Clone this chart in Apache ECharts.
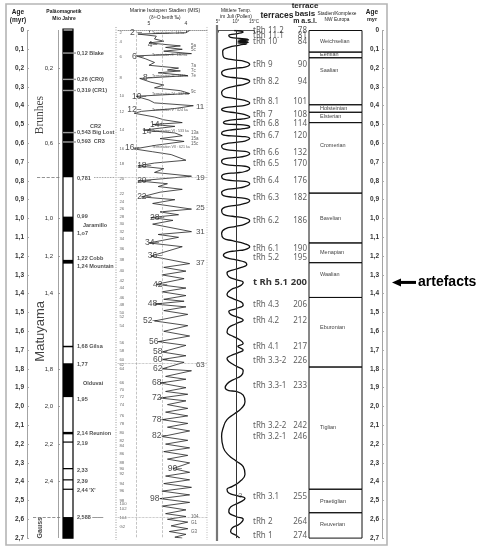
<!DOCTYPE html>
<html>
<head>
<meta charset="utf-8">
<script src="https://cdn.jsdelivr.net/npm/echarts@6/dist/echarts.min.js"></script>
<style>
html, body { margin: 0; padding: 0; background: #fff; }
#chart { width: 477px; height: 550px; }
</style>
</head>
<body>
<div id="chart"></div>
<script>
// --- palaeomagnetics (ages in myr) ---
const paleoInnerTicks = [0.2, 0.6, 1.0, 1.2, 1.4, 1.8, 2.0, 2.2, 2.4];
const normalPolarity = [[0, 0.781], [0.99, 1.07], [1.22, 1.24], [1.677, 1.685], [1.77, 1.95],
  [2.135, 2.148], [2.186, 2.192], [2.327, 2.334], [2.387, 2.393], [2.437, 2.443], [2.588, 2.7]];
const excursions = [0.12, 0.26, 0.319, 0.543, 0.593];
const paleoLabels = [
  ['0,12 Blake', 0.12], ['0,26 (CR0)', 0.26], ['0,319 (CR1)', 0.319], ['0,543 Big Lost', 0.543],
  ['0,593  CR3', 0.593], ['0,781', 0.787], ['0,99', 0.99], ['1,o7', 1.08], ['1,22 Cobb', 1.215],
  ['1,24 Mountain', 1.255], ['1,68 Gilsa', 1.68], ['1,77', 1.778], ['1,95', 1.965],
  ['2,14 Reunion', 2.145], ['2,19', 2.195], ['2,33', 2.338], ['2,39', 2.398], ["2,44 'X'", 2.445],
  ['2,588 ——', 2.59]
];
const paleoNotes = [['CR2', 0.51], ['Jaramillo', 1.035], ['Olduvai', 1.875]];
const chrons = [['Brunhes', 0.45], ['Matuyama', 1.6], ['Gauss', 2.645]];

// --- marine isotope stages: [age, d18O] ---
const misCurve = [
  [0.000, 3.9], [0.012, 4.0], [0.019, 5.3], [0.03, 4.8], [0.045, 4.85], [0.057, 4.6], [0.066, 5.0],
  [0.082, 4.15], [0.09, 4.55], [0.10, 4.1], [0.11, 4.6], [0.123, 3.85], [0.135, 5.35], [0.15, 5.1],
  [0.17, 4.85], [0.185, 5.0], [0.20, 4.2], [0.21, 4.5], [0.215, 4.15], [0.225, 4.75], [0.24, 3.95],
  [0.255, 5.25], [0.275, 4.95], [0.29, 4.6], [0.305, 4.85], [0.32, 4.15], [0.335, 3.9], [0.35, 5.35],
  [0.37, 5.0], [0.385, 4.85], [0.40, 3.8], [0.415, 4.3], [0.43, 5.2], [0.44, 5.4], [0.46, 4.85],
  [0.475, 4.6], [0.49, 4.1], [0.50, 4.9], [0.51, 4.3], [0.53, 5.15], [0.545, 4.3], [0.56, 4.1],
  [0.575, 4.7], [0.59, 4.05], [0.61, 4.8], [0.63, 5.4], [0.645, 4.9], [0.66, 4.4], [0.69, 4.0],
  [0.705, 4.85], [0.72, 5.3], [0.735, 4.6], [0.755, 4.85], [0.775, 3.85], [0.80, 5.3], [0.815, 4.5],
  [0.83, 4.75], [0.845, 4.1], [0.86, 4.7], [0.885, 5.2], [0.90, 4.3], [0.92, 4.9], [0.95, 3.85],
  [0.965, 4.7], [0.98, 4.2], [0.995, 4.95], [1.01, 4.35], [1.03, 4.9], [1.07, 3.85], [1.085, 4.75],
  [1.10, 4.2], [1.13, 5.0], [1.15, 4.1], [1.20, 4.95], [1.24, 3.9], [1.26, 4.6], [1.28, 4.0],
  [1.30, 4.65], [1.32, 4.05], [1.35, 4.8], [1.37, 4.0], [1.39, 4.65], [1.41, 4.0], [1.43, 4.6],
  [1.44, 4.05], [1.455, 4.85], [1.47, 4.0], [1.49, 4.6], [1.51, 3.95], [1.545, 4.85], [1.57, 3.95],
  [1.60, 4.6], [1.625, 3.9], [1.655, 4.75], [1.675, 4.0], [1.71, 4.65], [1.73, 4.0], [1.75, 4.65],
  [1.765, 4.05], [1.80, 4.65], [1.81, 3.85], [1.84, 4.55], [1.855, 4.0], [1.875, 4.7], [1.90, 4.0],
  [1.92, 4.55], [1.935, 3.95], [1.955, 4.7], [1.97, 4.0], [1.99, 4.5], [2.01, 3.95], [2.03, 4.55],
  [2.05, 3.95], [2.07, 4.65], [2.09, 3.95], [2.11, 4.5], [2.13, 3.9], [2.16, 4.65], [2.18, 3.95],
  [2.20, 4.55], [2.22, 3.9], [2.24, 4.6], [2.26, 3.95], [2.28, 4.5], [2.30, 3.9], [2.33, 4.35],
  [2.35, 3.9], [2.37, 4.55], [2.39, 3.9], [2.41, 4.6], [2.43, 3.85], [2.45, 4.65], [2.47, 3.9],
  [2.49, 4.7], [2.51, 3.9], [2.53, 4.65], [2.55, 4.0], [2.57, 4.55], [2.585, 4.0], [2.60, 4.5],
  [2.615, 3.95], [2.635, 4.4], [2.65, 3.95], [2.665, 4.45], [2.68, 4.0], [2.695, 4.3], [2.70, 4.1]
];
const misAxisTicks = [5, 4];
const misGridLines = [5.35, 4.65];
const misDottedAges = [0.781, 1.77, 2.588];
// [text, d18O at left edge, age]
const misGlacialLabels = [
  ['2 –', 5.51, 0.013], ['4–', 5.03, 0.077], ['6 –', 5.46, 0.14], ['8–', 5.16, 0.25], ['10–', 5.46, 0.354],
  ['12–', 5.59, 0.42], ['14+', 4.97, 0.50], ['14–', 5.19, 0.54], ['16–', 5.65, 0.625], ['18–', 5.32, 0.72],
  ['20–', 5.32, 0.80], ['22–', 5.32, 0.886], ['28–', 4.97, 0.995], ['34–', 5.11, 1.13], ['36–', 5.03, 1.20],
  ['42–', 4.89, 1.354], ['48–', 5.03, 1.455], ['52–', 5.16, 1.545], ['56–', 5.0, 1.657], ['58–', 4.89, 1.71],
  ['60–', 4.89, 1.753], ['62–', 4.89, 1.80], ['68–', 4.92, 1.875], ['72–', 4.92, 1.955], ['78–', 4.92, 2.07],
  ['82–', 4.92, 2.157], ['90–', 4.49, 2.33], ['98–', 4.97, 2.49]
];
const misWarmLabels = [['11', 0.407], ['19', 0.785], ['25', 0.944], ['31', 1.072], ['37', 1.237], ['63', 1.78]];
const misSubLabels = [['5a', 0.08], ['5c', 0.10], ['7a', 0.19], ['7c', 0.215], ['7e', 0.24], ['9c', 0.325],
  ['13a', 0.545], ['15a', 0.575], ['15c', 0.605], ['104', 2.585], ['G1', 2.62], ['G3', 2.665]];
const terminations = [['Termination I : 14 ka', 0.014], ['Termination II : 130 ka', 0.13],
  ['Termination III : 243 ka', 0.243], ['Termination IV : 337 ka', 0.337], ['Termination V : 424 ka', 0.424],
  ['Termination VI : 533 ka', 0.533], ['Termination VII : 621 ka', 0.621]];
const misStageNumbers = [
  ['2', 0.01], ['4', 0.06], ['6', 0.14], ['8', 0.25], ['10', 0.35], ['12', 0.43], ['14', 0.53], ['16', 0.63],
  ['18', 0.71], ['20', 0.79], ['22', 0.87], ['24', 0.91], ['26', 0.95], ['28', 0.99], ['30', 1.03], ['32', 1.07],
  ['34', 1.11], ['36', 1.16], ['38', 1.22], ['40', 1.28], ['42', 1.33], ['44', 1.37], ['46', 1.42], ['48', 1.46],
  ['50', 1.50], ['52', 1.525], ['54', 1.57], ['56', 1.66], ['58', 1.705], ['60', 1.75], ['62', 1.78], ['64', 1.80],
  ['66', 1.875], ['70', 1.91], ['72', 1.95], ['74', 1.99], ['76', 2.05], ['78', 2.09], ['80', 2.14], ['82', 2.18],
  ['84', 2.21], ['86', 2.25], ['88', 2.30], ['90', 2.33], ['92', 2.36], ['94', 2.41], ['96', 2.45], ['98', 2.50],
  ['100', 2.52], ['102', 2.545], ['104', 2.59], ['G2', 2.64]
];

// --- mean July temperature (pollen): [age, °C] ---
const julyTemp = [
  [0.0, 9.5], [0.008, 12], [0.018, 10], [0.026, 8], [0.036, 8.5], [0.042, 11],
  [0.046, 13.5], [0.05, 10.5], [0.054, 13.5], [0.058, 10.5], [0.062, 13.5], [0.066, 10.5], [0.07, 13], [0.078, 11],
  [0.09, 8], [0.11, 6.3], [0.14, 6.5], [0.155, 9],
  [0.165, 12.5], [0.18, 13.8], [0.195, 12.5], [0.2, 10],
  [0.21, 7], [0.225, 6], [0.24, 6.5], [0.25, 9],
  [0.258, 12.5], [0.27, 13.8], [0.285, 12.5], [0.295, 10],
  [0.31, 7], [0.33, 6], [0.35, 6.5], [0.36, 9],
  [0.372, 12.5], [0.385, 13.8], [0.398, 12.5], [0.404, 10],
  [0.41, 7], [0.42, 6], [0.43, 7], [0.438, 10],
  [0.448, 12.5], [0.46, 13.8], [0.47, 12], [0.475, 9],
  [0.482, 7], [0.49, 6.5], [0.498, 7.5], [0.5, 10],
  [0.505, 13], [0.513, 13.8], [0.522, 12], [0.528, 9],
  [0.537, 6.5], [0.548, 6], [0.558, 7], [0.562, 10],
  [0.565, 12.5], [0.575, 13.8], [0.588, 12.5], [0.595, 10],
  [0.603, 7], [0.615, 6], [0.63, 6.5], [0.638, 9],
  [0.643, 12.5], [0.655, 13.8], [0.668, 12.5], [0.675, 10],
  [0.682, 7], [0.695, 6], [0.71, 6.5], [0.717, 9],
  [0.722, 12.5], [0.735, 13.8], [0.75, 12.5], [0.757, 10],
  [0.763, 7], [0.777, 6], [0.79, 6.5], [0.798, 9],
  [0.803, 12.5], [0.815, 13.8], [0.83, 12.5], [0.84, 10],
  [0.848, 7], [0.862, 6], [0.878, 6.5], [0.886, 9],
  [0.893, 12.5], [0.905, 13.8], [0.92, 12.5], [0.93, 10],
  [0.94, 7], [0.958, 6], [0.978, 6.5], [0.988, 9],
  [0.998, 12.5], [1.012, 13.8], [1.03, 12.5], [1.042, 10],
  [1.055, 7], [1.08, 6], [1.105, 6.5], [1.118, 9],
  [1.135, 12.5], [1.15, 13.8], [1.165, 12.5], [1.172, 10],
  [1.18, 7.5], [1.195, 6.5], [1.21, 7.5], [1.22, 10],
  [1.232, 12.5], [1.245, 13], [1.26, 11.5], [1.275, 9],
  [1.29, 7.5], [1.31, 8], [1.325, 10], [1.34, 12], [1.36, 11],
  [1.38, 8.5], [1.405, 7.5], [1.425, 9], [1.445, 11.5], [1.46, 12], [1.48, 10], [1.495, 8], [1.51, 8.5],
  [1.525, 10.5], [1.54, 12], [1.56, 10], [1.58, 8], [1.605, 7.5], [1.625, 9], [1.645, 11], [1.665, 12],
  [1.68, 10.5], [1.70, 12], [1.715, 10.5], [1.73, 8.5], [1.745, 7.5], [1.76, 8], [1.785, 10], [1.81, 12],
  [1.835, 11.5], [1.86, 9], [1.88, 7.5], [1.90, 7], [1.915, 8], [1.92, 10], [1.94, 12], [1.975, 12.5],
  [2.01, 11.5], [2.04, 9.5], [2.07, 7.5], [2.11, 6.5], [2.16, 6], [2.22, 6.5], [2.26, 8], [2.29, 10],
  [2.32, 12], [2.36, 12.5], [2.40, 11], [2.425, 9], [2.44, 7.5], [2.46, 8], [2.475, 10.5], [2.49, 12.5],
  [2.51, 11], [2.535, 8.5], [2.56, 8], [2.585, 10], [2.60, 12], [2.625, 11], [2.645, 9], [2.665, 8.5],
  [2.685, 10], [2.70, 11]
];
const tempTicks = [5, 10, 15];

// --- Rhine terraces ---
const terraceNames = ['tRh 11.2', 'tRh 11.1', 'tRh 10', 'tRh 9', 'tRh 8.2', 'tRh 8.1', 'tRh 7', 'tRh 6.8',
  'tRh 6.7', 'tRh 6.6', 'tRh 6.5', 'tRh 6.4', 'tRh 6.3', 'tRh 6.2', 'tRh 6.1', 'tRh 5.2', 't Rh 5.1',
  'tRh 4.3', 'tRh 4.2', 'tRh 4.1', 'tRh 3.3-2', 'tRh 3.3-1', 'tRh 3.2-2', 'tRh 3.2-1', 'tRh 3.1', 'tRh 2', 'tRh 1'];
const terraceAges = [0.003, 0.03, 0.058, 0.18, 0.27, 0.38, 0.45, 0.495, 0.56, 0.65, 0.71, 0.80, 0.89, 1.01,
  1.16, 1.21, 1.34, 1.46, 1.545, 1.68, 1.755, 1.89, 2.10, 2.16, 2.48, 2.615, 2.685];
const terraceBasis = [78, 81, 84, 90, 94, 101, 108, 114, 120, 132, 170, 176, 182, 186, 190, 195, 200, 206,
  212, 217, 226, 233, 242, 246, 255, 264, 274];

// --- stages / complexes NW Europe ---
const stadiaNames = ['Weichselian', 'Eemian', 'Saalian', 'Holsteinian', 'Elsterian', 'Cromerian', 'Bavelian',
  'Menapian', 'Waalian', 'Eburonian', 'Tiglian', 'Praetiglian', 'Reuverian'];
const stadiaBounds = [[0, 0.115], [0.115, 0.145], [0.145, 0.395], [0.395, 0.435], [0.435, 0.49], [0.49, 0.865],
  [0.865, 1.13], [1.13, 1.235], [1.235, 1.42], [1.42, 1.79], [1.79, 2.44], [2.44, 2.565], [2.565, 2.70]];
const stadiaLabelAges = [0.057, 0.13, 0.215, 0.413, 0.46, 0.61, 1.0, 1.18, 1.3, 1.58, 2.11, 2.505, 2.63];

const artefactAge = 1.34;

const SANS = 'Liberation Sans';
const fmtAge = v => (v === 0 ? '0' : v.toFixed(1).replace('.', ','));

const TOP = 30.5;
const H = 507.6;
const grids = [
  { left: 27, width: 1 },    // 0 age axis left
  { left: 58, width: 1 },    // 1 palaeomag inner axis
  { left: 33, width: 82 },   // 2 palaeomag column
  { left: 117, width: 90 },  // 3 MIS
  { left: 218, width: 36 },  // 4 July temperature
  { left: 253, width: 54 },  // 5 terraces
  { left: 309, width: 53 },  // 6 stages
  { left: 382, width: 1 }    // 7 age axis right
].map(g => ({ ...g, top: TOP, height: H, containLabel: false, outerBoundsMode: 'none' }));

const ageAxisBase = { type: 'value', inverse: true, min: 0, max: 2.7, splitLine: { show: false } };
const dottedLine = { show: true, lineStyle: { color: '#999', type: 'dotted', width: 1 } };

const yAxes = grids.map((g, i) => ({ ...ageAxisBase, gridIndex: i, show: false }));
[0, 7].forEach(i => {
  yAxes[i] = {
    ...ageAxisBase, gridIndex: i, show: true, position: 'left', interval: 0.1,
    axisLine: dottedLine,
    axisTick: { show: true, inside: true, length: 2, lineStyle: { color: '#aaa' } },
    axisLabel: { fontSize: 6.5, fontWeight: 'bold', color: '#333', margin: 3, fontFamily: SANS, formatter: fmtAge }
  };
});
yAxes[1] = {
  ...ageAxisBase, gridIndex: 1, show: true, position: 'left',
  axisLine: dottedLine,
  axisTick: { show: true, inside: true, length: 2, customValues: paleoInnerTicks, lineStyle: { color: '#999' } },
  axisLabel: { fontSize: 6, color: '#333', margin: 5, fontFamily: SANS, customValues: paleoInnerTicks, formatter: fmtAge }
};

const xAxes = [
  { gridIndex: 0, type: 'value', show: false, min: 0, max: 1 },
  { gridIndex: 1, type: 'value', show: false, min: 0, max: 1 },
  { gridIndex: 2, type: 'value', show: false, min: 0, max: 82 },
  {
    gridIndex: 3, type: 'value', position: 'top', inverse: true, min: 3.43, max: 5.865, offset: 3,
    axisLine: dottedLine,
    axisTick: { show: true, inside: true, length: 2, customValues: misAxisTicks, lineStyle: { color: '#555' } },
    axisLabel: { fontSize: 5, color: '#333', margin: 1, fontFamily: SANS, customValues: misAxisTicks },
    splitLine: { show: false }
  },
  {
    gridIndex: 4, type: 'value', position: 'top', min: 5, max: 15, offset: 5,
    axisLine: { show: true, lineStyle: { color: '#555', width: 1 } },
    axisTick: { show: true, inside: true, length: 2, customValues: tempTicks, lineStyle: { color: '#555' } },
    axisLabel: { fontSize: 4.5, color: '#333', margin: 1, fontFamily: SANS, customValues: tempTicks,
      formatter: v => (v === 15 ? '15°C' : v + '°') },
    splitLine: { show: false }
  },
  { gridIndex: 5, type: 'value', show: false, min: 0, max: 1 },
  { gridIndex: 6, type: 'value', show: false, min: 0, max: 1 },
  { gridIndex: 7, type: 'value', show: false, min: 0, max: 1 }
];

const labelScatter = (xi, items, label) => ({
  type: 'scatter', xAxisIndex: xi, yAxisIndex: xi, symbolSize: 0, silent: true, clip: false,
  itemStyle: { color: 'transparent' },
  label: { show: true, formatter: '{b}', fontFamily: SANS, ...label },
  data: items
});

const bigIdx = terraceNames.indexOf('t Rh 5.1');

const series = [
  // polarity: normal = black
  {
    type: 'custom', xAxisIndex: 2, yAxisIndex: 2, silent: true, data: normalPolarity,
    renderItem: (p, api) => {
      const a = api.coord([30, api.value(0)]);
      const b = api.coord([40, api.value(1)]);
      return { type: 'rect', shape: { x: a[0], y: a[1], width: b[0] - a[0], height: Math.max(b[1] - a[1], 1.2) },
        style: { fill: '#000' } };
    }
  },
  {
    type: 'custom', xAxisIndex: 2, yAxisIndex: 2, silent: true, data: [[0, 2.7]],
    renderItem: (p, api) => {
      const a = api.coord([30, api.value(0)]);
      const b = api.coord([40, api.value(1)]);
      return { type: 'rect', shape: { x: a[0], y: a[1] - 1.5, width: b[0] - a[0], height: b[1] - a[1] + 1.5 },
        style: { fill: 'none', stroke: '#000', lineWidth: 1.2 } };
    }
  },
  {
    type: 'custom', xAxisIndex: 2, yAxisIndex: 2, silent: true, data: excursions.map(a => [a]),
    renderItem: (p, api) => {
      const a = api.coord([30, api.value(0)]);
      const b = api.coord([43, api.value(0)]);
      return { type: 'line', shape: { x1: a[0], y1: a[1], x2: b[0], y2: b[1] },
        style: { stroke: '#9a9a9a', lineWidth: 1.4 } };
    }
  },
  labelScatter(2, paleoLabels.map(([t, a]) => ({ name: t, value: [44, a] })),
    { position: 'right', distance: 0, fontSize: 5.5, fontWeight: 'bold', color: '#222' }),
  labelScatter(2, paleoNotes.map(([t, a], i) => ({ name: t, value: [i === 0 ? 57 : 50, a] })),
    { position: 'right', distance: 0, fontSize: 5.5, fontWeight: 'bold', color: '#222' }),
  labelScatter(2, chrons.map(([t, a], i) => ({
    name: t, value: [7, a],
    label: i === 0 ? { fontFamily: 'Liberation Serif', fontSize: 11.5 }
      : i === 1 ? { fontSize: 13 } : { fontSize: 7, fontWeight: 'bold' }
  })), { position: 'inside', rotate: 90, color: '#111' }),
  {
    type: 'line', xAxisIndex: 2, yAxisIndex: 2, data: [], silent: true,
    markLine: {
      symbol: ['none', 'none'], silent: true, label: { show: false },
      lineStyle: { color: '#777', type: 'dashed', width: 0.8 },
      data: [
        [{ coord: [4, 0.781] }, { coord: [27, 0.781] }],
        [{ coord: [61, 0.781], lineStyle: { type: 'dotted' } }, { coord: [82, 0.781] }],
        [{ coord: [0, 2.588] }, { coord: [28, 2.588] }]
      ]
    }
  },
  // MIS curve
  {
    type: 'line', xAxisIndex: 3, yAxisIndex: 3, silent: true, symbol: 'none',
    lineStyle: { color: '#222', width: 0.8 },
    data: misCurve.map(([a, d]) => [d, a]),
    markLine: {
      symbol: ['none', 'none'], silent: true, label: { show: false },
      lineStyle: { color: '#aaa', type: 'dashed', width: 0.7 },
      data: misGridLines.map(v => ({ xAxis: v }))
        .concat(misDottedAges.map(a => ({ yAxis: a, lineStyle: { type: 'dotted', color: '#999' } })))
    }
  },
  labelScatter(3, misGlacialLabels.map(([t, d, a]) => ({ name: t, value: [d, a] })),
    { position: 'right', distance: 0, fontSize: 8.5, color: '#222' }),
  labelScatter(3, misWarmLabels.map(([t, a]) => ({ name: t, value: [3.73, a] })),
    { position: 'right', distance: 0, fontSize: 8, color: '#222' }),
  labelScatter(3, misSubLabels.map(([t, a]) => ({ name: t, value: [3.86, a] })),
    { position: 'right', distance: 0, fontSize: 4.5, color: '#333' }),
  labelScatter(3, terminations.map(([t, a]) => ({ name: t, value: [4.92, a] })),
    { position: 'right', distance: 0, fontSize: 3.6, color: '#333' }),
  labelScatter(3, misStageNumbers.map(([t, a]) => ({ name: t, value: [5.8, a] })),
    { position: 'right', distance: 0, fontSize: 4.3, color: '#444' }),
  // July temperature
  {
    type: 'line', xAxisIndex: 4, yAxisIndex: 4, silent: true, symbol: 'none', smooth: 0.5,
    lineStyle: { color: '#111', width: 1.3 },
    data: julyTemp.map(([a, t]) => [t, a]),
    markLine: {
      symbol: ['none', 'none'], silent: true, label: { show: false },
      lineStyle: { color: '#333', type: 'solid', width: 1 },
      data: [{ xAxis: 10 }]
    }
  },
  labelScatter(4, [{ name: '?', value: [10.6, 2.478] }], { position: 'right', distance: 0, fontSize: 7, color: '#222' }),
  // terraces
  labelScatter(5, terraceNames.map((n, i) => ({
    name: n, value: [0, terraceAges[i]],
    label: i === bigIdx ? { fontWeight: 'bold', fontSize: 9.5, color: '#000' } : undefined
  })), { position: 'right', distance: 0, fontSize: 8, color: '#333', fontFamily: 'Noto Sans' }),
  labelScatter(5, terraceBasis.map((v, i) => ({
    name: String(v), value: [1, terraceAges[i]],
    label: i === bigIdx ? { fontWeight: 'bold', fontSize: 9.5, color: '#000' } : undefined
  })), { position: 'left', distance: 0, fontSize: 8, color: '#333', fontFamily: 'Noto Sans' }),
  // stages / complexes
  {
    type: 'custom', xAxisIndex: 6, yAxisIndex: 6, silent: true, data: stadiaBounds,
    renderItem: (p, api) => {
      const i = p.dataIndex;
      const a = api.coord([0, api.value(0)]);
      const b = api.coord([1, api.value(1)]);
      const l = api.coord([0, stadiaLabelAges[i]]);
      return {
        type: 'group', children: [
          { type: 'rect', shape: { x: a[0], y: a[1], width: b[0] - a[0], height: b[1] - a[1] },
            style: { fill: 'none', stroke: '#111', lineWidth: 1 } },
          { type: 'text', style: { text: stadiaNames[i], x: a[0] + 11, y: l[1], fontSize: 5.5, fontFamily: SANS,
            fill: '#444', align: 'left', verticalAlign: 'middle' } }
        ]
      };
    }
  }
];

const txt = (text, x, y, size, opts = {}) => ({
  type: 'text', silent: true,
  style: { text, x, y, fontSize: size, fontFamily: SANS, fill: '#222', align: 'center', verticalAlign: 'middle',
    textAlign: 'center', textVerticalAlign: 'middle', ...opts }
});
const vline = (x, y1, y2, style) => ({ type: 'line', silent: true, shape: { x1: x, y1, x2: x, y2 }, style });

const arrowY = TOP + artefactAge / 2.7 * H;

const chart = echarts.init(document.getElementById('chart'), null, { renderer: 'canvas' });
chart.setOption({
  animation: false,
  backgroundColor: '#fff',
  textStyle: { fontFamily: SANS },
  grid: grids,
  xAxis: xAxes,
  yAxis: yAxes,
  series,
  graphic: [
    { type: 'rect', silent: true, shape: { x: 6, y: 4, width: 381, height: 541 },
      style: { fill: 'none', stroke: '#b5b5b5', lineWidth: 1.6 } },
    vline(116, 27, 540, { stroke: '#999', lineDash: [1, 1.5], lineWidth: 1 }),
    vline(207, 27, 540, { stroke: '#bbb', lineDash: [1, 1.5], lineWidth: 1 }),
    vline(217, 25, 541, { stroke: '#777', lineWidth: 2.2 }),
    txt('Age', 18, 12, 6.5, { fontWeight: 'bold' }),
    txt('(myr)', 18, 20, 6.5, { fontWeight: 'bold' }),
    txt('Paläomagnetik', 64, 12, 5, { fontWeight: 'bold' }),
    txt('Mio Jahre', 64, 19, 5, { fontWeight: 'bold' }),
    txt('Marine Isotopen Stadien (MIS)', 165, 11, 5.2),
    txt('(δ¹⁸O benth ‰)', 165, 18, 4.6),
    txt('Mittlere Temp.', 236, 11, 4.8),
    txt('im Juli (Pollen)', 236, 17, 4.8),
    txt('terraces', 277, 16, 8.5, { fontWeight: 'bold' }),
    txt('terrace', 305, 5.5, 8, { fontWeight: 'bold' }),
    txt('basis', 305, 13.5, 8, { fontWeight: 'bold' }),
    txt('m a.s.l.', 305, 21, 7, { fontWeight: 'bold' }),
    txt('Stadien/Komplexe', 337, 14, 4.8),
    txt('NW Europa', 337, 20, 4.8),
    txt('Age', 372, 12, 6.5, { fontWeight: 'bold' }),
    txt('myr', 372, 19, 5.5, { fontWeight: 'bold' }),
    { type: 'line', silent: true, shape: { x1: 399, y1: arrowY, x2: 416, y2: arrowY },
      style: { stroke: '#000', lineWidth: 3 } },
    { type: 'polygon', silent: true, shape: { points: [[392, arrowY], [401, arrowY - 4], [401, arrowY + 4]] },
      style: { fill: '#000' } },
    txt('artefacts', 418, arrowY, 14, { fontWeight: 'bold', fill: '#000', align: 'left', textAlign: 'left' })
  ]
});
</script>
</body>
</html>
